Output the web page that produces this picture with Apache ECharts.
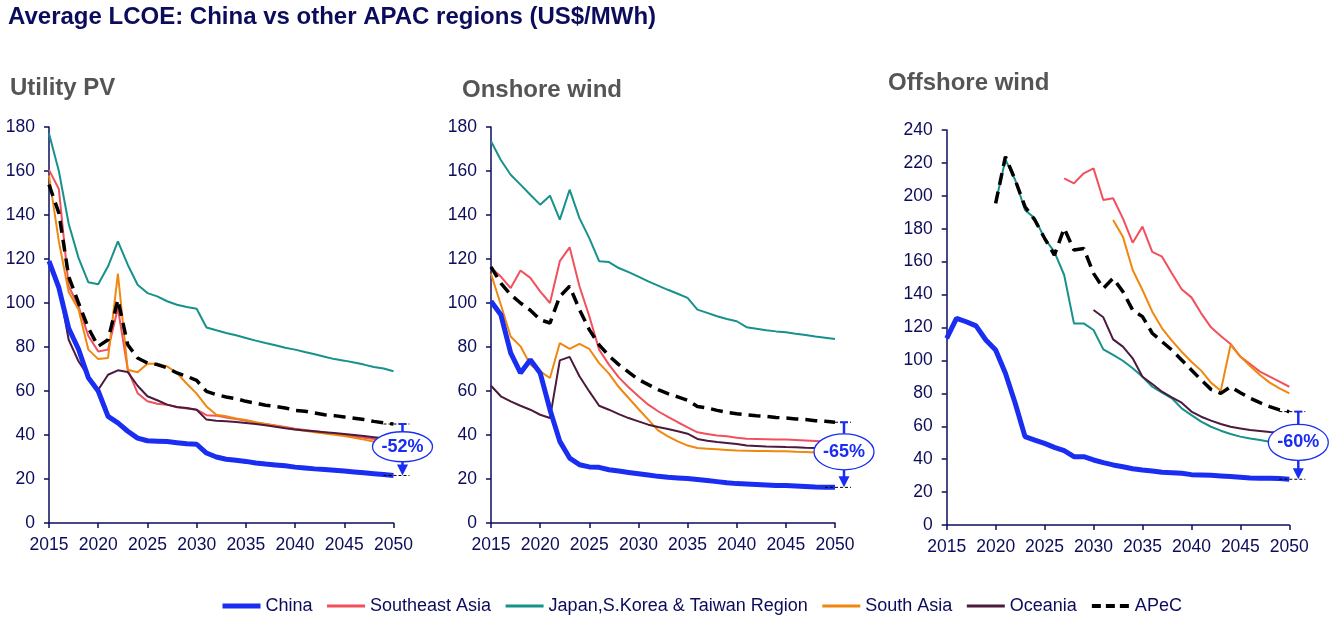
<!DOCTYPE html>
<html>
<head>
<meta charset="utf-8">
<script src="https://cdn.jsdelivr.net/npm/echarts@6/dist/echarts.min.js"></script>
<style>
  html, body { margin: 0; padding: 0; background: #fff; }
  #main { width: 1334px; height: 628px; }
</style>
</head>
<body>
<div id="main"></div>
<script>
var years = [2015, 2016, 2017, 2018, 2019, 2020, 2021, 2022, 2023, 2024, 2025, 2026,
  2027, 2028, 2029, 2030, 2031, 2032, 2033, 2034, 2035, 2036, 2037, 2038,
  2039, 2040, 2041, 2042, 2043, 2044, 2045, 2046, 2047, 2048, 2049, 2050]

var names = ['China', 'Southeast Asia', 'Japan,S.Korea & Taiwan Region', 'South Asia', 'Oceania', 'APeC']
var panelTitles = ['Utility PV', 'Onshore wind', 'Offshore wind']
var yMax = [180, 180, 240]
var dropLabels = ['-52%', '-65%', '-60%']

// Utility PV
var pvChina = [119, 107, 88.5, 79, 66, 60, 48.5, 45.5, 41.7, 38.6, 37.4, 37.2, 37, 36.5, 36, 35.8,
  31.8, 30, 29, 28.5, 28, 27.3, 26.8, 26.4, 26, 25.4, 25, 24.6, 24.3, 24, 23.6, 23.2, 22.8, 22.4, 22, 21.6]
var pvSea = [160.5, 151.8, 107.6, 98.5, 85, 78, 78.8, 97.7, 69.7, 59, 55.3, 54.2, 53.8, 52.6, 52, 51.5,
  49, 48.8, 48, 47.3, 46.5, 45.7, 45, 44.3, 43.6, 42.9, 42.3, 41.7, 41.1, 40.5, 39.9, 39.3, 38.8, 38.2, 37.6, 37]
var pvJapan = [177, 160, 136, 120.5, 109.4, 108.5, 116.7, 128, 117.4, 108.3, 104.5, 103, 100.8, 99.2, 98.2, 97.4,
  88.9, 87.6, 86.4, 85.3, 84.1, 82.9, 81.8, 80.8, 79.7, 78.8, 77.7, 76.7, 75.6, 74.5, 73.8, 73, 72, 70.9, 70.2, 69]
var pvSouth = [158, 128, 105, 97, 78.8, 74.5, 75, 113.3, 69.7, 68.5, 72.4, 72.4, 71.2, 68.2, 63.3, 58.8,
  53, 49.2, 48.5, 47.5, 46.8, 45.8, 45, 44.2, 43.3, 42.5, 41.9, 41.3, 40.7, 40.1, 39.5, 38.7, 37.9, 37, 36.5, 36]
var pvOceania = [118, 107.6, 83.3, 73.5, 66.7, 60.6, 67.4, 69.4, 68.6, 62.4, 57.6, 55.8, 53.8, 52.7, 52.3, 51.5,
  47, 46.5, 46.3, 45.9, 45.5, 45, 44.4, 43.8, 43.1, 42.5, 42.1, 41.7, 41.3, 40.9, 40.5, 40, 39.5, 39, 38.5, 38]
var pvApec = [153.8, 141, 112, 100, 88.6, 80.3, 83.3, 101.5, 81, 75, 72.7, 72, 70.5, 68.2, 66.7, 64.8,
  59.8, 58.3, 57.3, 56.5, 55.3, 54.5, 53.5, 53, 52.3, 51.2, 50.8, 50, 49.2, 48.8, 48.2, 47.6, 47, 46.2, 45.5, 45]

// Onshore wind
var onChina = [100.8, 94.7, 77.3, 68.2, 74.2, 68.2, 51.5, 37.1, 29.5, 26.5, 25.5, 25.3, 24.2, 23.6, 23, 22.4,
  21.8, 21.2, 20.8, 20.5, 20.2, 19.8, 19.3, 18.8, 18.3, 17.9, 17.7, 17.5, 17.3, 17.1, 17, 16.8, 16.6, 16.4, 16.3, 16.2]
var onSea = [116, 112, 106.8, 114.8, 111.4, 105.3, 100, 119, 125.3, 107.6, 94, 78.8, 72, 66.2, 61.7, 57.6,
  53.8, 50.8, 48.2, 45.8, 43.5, 41.2, 40.5, 39.8, 39.4, 38.8, 38.3, 38.2, 38.1, 38, 37.9, 37.7, 37.5, 37.3, 37, 36.8]
var onJapan = [173.5, 165, 158.3, 153.8, 149.2, 144.7, 148.8, 137.9, 151.5, 138.6, 129.5, 119, 118.6, 115.9, 114, 112,
  109.8, 107.9, 106, 104.2, 102.3, 97, 95.5, 94, 92.7, 91.7, 89, 88.3, 87.6, 87.1, 86.7, 86, 85.5, 84.8, 84.2, 83.6]
var onSouth = [113.3, 99.2, 84.8, 80.3, 72, 68.9, 65.9, 81.8, 79.1, 81.4, 79.1, 72.7, 67.9, 61.8, 56.8, 51.8,
  47, 42.1, 39.4, 37.1, 35.2, 34.1, 33.8, 33.5, 33.2, 32.9, 32.8, 32.7, 32.7, 32.6, 32.6, 32.4, 32.3, 32.1, 31.8, 31.5]
var onOceania = [62.4, 57.6, 55.3, 53.3, 51.5, 49.2, 47.7, 73.9, 75.5, 66.7, 59.8, 53.3, 51.5, 49.5, 47.7, 46.2,
  44.7, 43.6, 42.7, 41.7, 40.6, 38.2, 37.4, 36.8, 36.4, 35.9, 35.2, 35, 34.8, 34.7, 34.5, 34.4, 34.2, 34.1, 33.8, 33.6]
var onApec = [116.4, 109, 103.8, 100, 96.7, 92.4, 90.9, 103, 107.6, 97, 87.9, 81, 76, 72, 68.6, 65.2,
  62.9, 60.6, 58.8, 57.3, 55.8, 53, 52.3, 51.2, 50.3, 49.7, 49.2, 48.8, 48.5, 48, 47.7, 47.3, 47, 46.5, 46.2, 45.8]

// Offshore wind
var offChina = [113.4, 125.6, 123.5, 121, 112.4, 106.3, 92.2, 74, 53.7, 51.6, 49.6, 47.2, 45.2, 41.5, 41.5, 39.5,
  37.9, 36.5, 35.4, 34.2, 33.4, 32.8, 32, 31.8, 31.4, 30.6, 30.4, 30.2, 29.8, 29.4, 29, 28.6, 28.4, 28.4, 28.2, 27.8]
var offSea = [null, null, null, null, null, null, null, null, null, null, null, null,
  210.6, 207.6, 213.7, 216.7, 197.5, 198.5, 186.3, 171.5, 181.3, 166, 163, 152.9,
  143.2, 138.3, 128.6, 120.1, 114.8, 110, 102.3, 97.8, 93.2, 90.1, 87.1, 84]
var offJapan = [null, null, null, null, null, 196, 222, 209.6, 191.4, 186.3, 174.2, 166,
  151.9, 122.5, 122.5, 118.5, 106.7, 103.3, 99.8, 95.2, 90.1, 84, 80.4, 77,
  70.9, 66.8, 62.8, 59.7, 57.3, 55.3, 53.7, 52.5, 51.6, 50.6, 50, 49.6]
var offSouth = [null, null, null, null, null, null, null, null, null, null, null, null,
  null, null, null, null, null, 185.3, 175.2, 154.9, 142.8, 129.6, 119.5, 112,
  105.3, 99.2, 93.8, 86.5, 81.6, 109.4, 102.3, 96.6, 91.1, 86.5, 83, 80]
var offOceania = [null, null, null, null, null, null, null, null, null, null, null, null,
  null, null, null, 130.6, 126.2, 112.8, 108.4, 101.3, 90.1, 85.7, 81, 77.6,
  74.3, 68.9, 65.8, 63.4, 61.4, 59.7, 58.7, 57.7, 57.1, 56.5, 56.1, 55.7]
var offApec = [null, null, null, null, null, 195.4, 223.8, 209.6, 193.4, 185.3, 174.2, 164,
  180.3, 167.1, 168, 152.9, 143.8, 149.9, 141.8, 130.6, 126.6, 116.5, 111.4, 106.3,
  100.3, 94.2, 88.1, 82.4, 80, 84, 80.4, 77, 74.3, 71.9, 69.9, 68.9]

var panels = [
  [pvChina, pvSea, pvJapan, pvSouth, pvOceania, pvApec],
  [onChina, onSea, onJapan, onSouth, onOceania, onApec],
  [offChina, offSea, offJapan, offSouth, offOceania, offApec]
]

var navy = '#0c0c5c'
var blue = '#1a2ef2'
var colors = [blue, '#f2505c', '#17918b', '#f0870e', '#4b1a3c', '#000000']
var font = "'Liberation Sans', Arial, sans-serif"

var grids = [
  { left: 49, top: 127, width: 344.5, height: 396 },
  { left: 491, top: 127, width: 344, height: 396 },
  { left: 946.7, top: 130, width: 342.6, height: 395 }
]
var titleX = [10, 462, 888]
var titleY = [76, 78, 71]

function pairs(vals) {
  return years.map(function (y, i) { return [y, vals[i]] })
}

function lineStyleFor(k) {
  var ls = { color: colors[k], width: 2 }
  if (k === 0) ls.width = 5
  if (k === 5) { ls.width = 3.5; ls.type = [12, 7] }
  return ls
}

var xAxes = [], yAxes = [], series = [], titles = []
titles.push({
  text: 'Average LCOE: China vs other APAC regions (US$/MWh)',
  left: 8, top: 5, padding: 0,
  textStyle: { color: navy, fontSize: 24, fontWeight: 'bold', fontFamily: font }
})

for (var p = 0; p < 3; p++) {
  titles.push({
    text: panelTitles[p],
    left: titleX[p], top: titleY[p], padding: 0,
    textStyle: { color: '#555555', fontSize: 24, fontWeight: 'bold', fontFamily: font }
  })
  xAxes.push({
    type: 'value', gridIndex: p, min: 2015, max: 2050, interval: 5,
    axisLine: { lineStyle: { color: navy, width: 1.5 } },
    axisTick: { show: true, length: 5, lineStyle: { color: navy, width: 1.5 } },
    axisLabel: { color: navy, fontSize: 17.5, fontFamily: font, margin: 13,
      formatter: function (v) { return String(v) } },
    splitLine: { show: false }
  })
  yAxes.push({
    type: 'value', gridIndex: p, min: 0, max: yMax[p], interval: 20,
    axisLine: { show: true, lineStyle: { color: navy, width: 1.5 } },
    axisTick: { show: true, length: 5, lineStyle: { color: navy, width: 1.5 } },
    axisLabel: { color: navy, fontSize: 17.5, fontFamily: font, margin: 14 },
    splitLine: { show: false }
  })
  // draw order: other regions first, then China, then APeC on top
  var order = [1, 2, 3, 4, 0, 5]
  order.forEach(function (k) {
    series.push({
      name: names[k], type: 'line', xAxisIndex: p, yAxisIndex: p,
      data: pairs(panels[p][k]),
      symbol: 'none', showSymbol: false, connectNulls: false,
      lineStyle: lineStyleFor(k), itemStyle: { color: colors[k] },
      emphasis: { disabled: true }, animation: false
    })
  })
}

var legendData = names.map(function (n, k) {
  var ls = lineStyleFor(k)
  if (k > 0 && k < 5) ls.width = 3
  if (k === 5) { ls.width = 4; ls.type = [9, 5] }
  return { name: n, lineStyle: ls }
})

var chart = echarts.init(document.getElementById('main'))
chart.setOption({
  animation: false,
  title: titles,
  grid: grids,
  xAxis: xAxes,
  yAxis: yAxes,
  legend: {
    data: legendData, left: 215, top: 592,
    itemWidth: 38, itemHeight: 14, itemGap: 13,
    itemStyle: { opacity: 0 },
    textStyle: { color: navy, fontSize: 18, fontFamily: font }
  },
  series: series
})

// drop annotations: APeC 2050 vs China 2050 in each panel
var ryList = [15, 18, 18]
var graphics = []
for (var q = 0; q < 3; q++) {
  var topV = panels[q][5][35], botV = panels[q][0][35]
  var pt = chart.convertToPixel({ gridIndex: q }, [2050, topV])
  var pb = chart.convertToPixel({ gridIndex: q }, [2050, botV])
  var ax = pt[0] + 9
  graphics.push({ type: 'line', shape: { x1: pt[0] - 10, y1: pt[1], x2: ax + 7, y2: pt[1] },
    style: { stroke: '#000', lineWidth: 1, lineDash: [3, 2] }, z: 100 })
  graphics.push({ type: 'line', shape: { x1: pb[0] - 10, y1: pb[1], x2: ax + 7, y2: pb[1] },
    style: { stroke: '#000', lineWidth: 1, lineDash: [3, 2] }, z: 100 })
  graphics.push({ type: 'line', shape: { x1: ax - 4, y1: pt[1], x2: ax + 4, y2: pt[1] },
    style: { stroke: blue, lineWidth: 2 }, z: 101 })
  graphics.push({ type: 'line', shape: { x1: ax, y1: pt[1], x2: ax, y2: pb[1] - 9 },
    style: { stroke: blue, lineWidth: 2.5 }, z: 101 })
  graphics.push({ type: 'polygon', shape: { points: [[ax - 5.5, pb[1] - 11], [ax + 5.5, pb[1] - 11], [ax, pb[1]]] },
    style: { fill: blue }, z: 101 })
  var cy = (pt[1] + pb[1]) / 2 - 3
  graphics.push({ type: 'ellipse', shape: { cx: ax, cy: cy, rx: 30, ry: ryList[q] },
    style: { fill: '#fff', stroke: blue, lineWidth: 1.3 }, z: 102 })
  graphics.push({ type: 'text', x: ax, y: cy, z: 103,
    style: { text: dropLabels[q], fill: blue, fontSize: 18, fontWeight: 'bold', fontFamily: font,
      align: 'center', verticalAlign: 'middle' } })
}
chart.setOption({ graphic: graphics })
</script>
</body>
</html>
